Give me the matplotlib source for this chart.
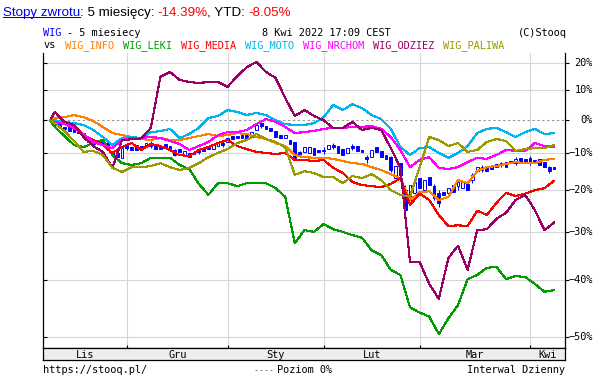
# Stooq style chart: WIG (candles) vs sector indices, 5 months, log return scale
import numpy as np
import matplotlib
matplotlib.use("Agg")
import matplotlib.pyplot as plt
from matplotlib import transforms
from matplotlib.lines import Line2D

W, H = 604, 377

# ---- data -------------------------------------------------------------
# trading day index since 8 Nov 2021
line_days = [0] + list(range(1, 106, 2))
wig_days = list(range(106))
month_start = [16, 37, 57, 77, 100]
month_labels = ["Lis", "Gru", "Sty", "Lut", "Mar", "Kwi"]

# returns in % relative to first day
wig_info = [0, 0.7, 1.0, 1.7, 1.0, -0.2, -2.1, -4.0, -4.6, -5.2, -5.8, -6.1, -5.5, -6.1, -6.1, -5.5,
            -4.9, -4.3, -4.9, -4.6, -4.0, -4.3, -5.2, -5.8, -7.0, -7.9, -10.5, -11.1, -11.3, -11.3, -11.6, -12.2,
            -12.8, -13.0, -13.9, -14.7, -15.8, -16.9, -22.5, -20.5, -20.3, -22.5, -21.7, -17.4, -18.2, -15.0, -13.9, -13.6,
            -13.0, -12.5, -12.8, -12.8, -11.9, -11.6]
wig_leki = [0, -2.1, -4.9, -7.6, -8.2, -7.0, -6.1, -10.5, -12.8, -13.3, -12.8, -11.3, -11.3, -11.3, -13.3, -14.4,
            -18.4, -21.2, -18.2, -18.2, -19.0, -18.2, -18.2, -18.2, -19.5, -21.7, -32.5, -29.6, -30.0, -28.2, -29.4, -30.0,
            -30.7, -31.3, -34.0, -35.0, -38.0, -39.0, -45.0, -45.9, -46.6, -49.5, -46.9, -44.6, -39.8, -39.0, -37.6, -37.4,
            -39.8, -39.2, -39.4, -40.7, -42.2, -41.9]
wig_media = [0, -0.2, -0.9, -1.8, -4.6, -6.1, -7.6, -9.9, -8.2, -7.0, -9.05, -7.3, -7.9, -9.05, -10.5, -10.8,
             -9.05, -8.2, -7.0, -6.1, -7.9, -8.8, -9.6, -9.9, -10.2, -9.9, -11.9, -11.9, -12.2, -11.9, -14.1, -15.5,
             -17.9, -18.7, -19.0, -19.2, -18.4, -16.9, -23.7, -20.9, -22.5, -26.1, -28.7, -28.5, -28.7, -25.1, -26.1, -23.2,
             -20.7, -21.5, -20.9, -20.0, -19.5, -17.6]
wig_moto = [0, 0, -0.5, -0.9, -1.5, -3.05, -5.2, -7.6, -5.5, -5.2, -5.5, -3.7, -3.4, -2.7, -5.5, -4.3,
            -2.4, 0.7, 1.4, 3.35, 2.7, 1.7, 2.4, 1.7, 0, -1.2, -1.5, -1.5, -0.9, 1.0, 5.0, 3.35,
            5.3, 4.0, 1.7, 0.4, -2.7, -8.2, -10.5, -8.5, -8.2, -9.9, -11.3, -9.9, -7.9, -4.0, -2.7, -2.4,
            -3.7, -5.2, -3.7, -2.7, -4.3, -4.0]
wig_nrchom = [0, -0.5, -1.2, -2.4, -4.3, -6.7, -7.6, -8.5, -6.1, -5.5, -5.5, -5.2, -5.5, -6.4, -7.3, -9.05,
              -7.9, -6.7, -4.6, -3.7, -3.7, -3.05, -1.2, 0.4, -0.5, -2.1, -4.0, -3.7, -3.35, -2.7, -2.4, -2.4,
              -2.1, -2.1, -1.8, -2.7, -5.2, -9.05, -13.9, -11.9, -11.1, -14.1, -14.4, -13.9, -12.5, -11.3, -11.6, -10.5,
              -9.05, -9.3, -9.3, -7.0, -7.9, -8.2]
wig_odziez = [0, 2.7, -0.5, -1.5, -5.2, -7.9, -9.6, -14.1, -6.1, -5.9, -5.6, -2.4, 14.9, 16.7, 13.8, 13.0,
              12.7, 13.0, 13.0, 11.3, 15.2, 18.5, 20.5, 16.7, 14.5, 7.4, 1.4, 3.35, 1.4, 0, -2.4, -2.4,
              -0.5, -3.05, -2.4, -3.05, -8.5, -14.1, -36.4, -36.4, -40.7, -43.5, -35.6, -33.0, -38.0, -29.6, -29.4, -27.0,
              -25.6, -22.5, -21.2, -24.9, -29.6, -27.9]
wig_paliwa = [0, -0.9, -3.35, -6.4, -9.6, -9.3, -10.5, -14.1, -15.2, -13.9, -13.9, -13.6, -12.8, -13.9, -14.7, -14.1,
              -12.8, -11.1, -9.9, -8.8, -7.0, -6.1, -4.3, -5.8, -6.7, -8.2, -16.0, -15.0, -15.5, -16.6, -16.6, -18.2,
              -16.3, -16.9, -15.8, -17.4, -20.0, -21.2, -21.7, -13.9, -5.2, -6.1, -7.9, -7.0, -9.6, -9.05, -6.7, -5.8,
              -6.4, -9.3, -8.8, -8.5, -8.5, -7.6]

# WIG daily candles (%)
wig_open = [0.3, -0.5, -1.2, -2.1, -2.1, -2.4, -3.1, -4.0, -5.2, -6.7,
            -6.4, -6.1, -7.0, -9.6, -9.9, -11.3, -7.6, -8.2, -7.6, -7.9,
            -8.2, -7.0, -7.9, -7.9, -7.3, -7.9, -9.1, -8.8, -10.5, -9.9,
            -9.6, -9.1, -8.5, -8.2, -8.8, -7.9, -7.0, -6.7, -4.9, -4.9,
            -4.6, -4.6, -5.2, -3.1, -0.9, -1.8, -2.4, -3.4, -4.6, -5.5,
            -6.1, -6.7, -9.6, -9.6, -9.9, -8.5, -9.1, -9.1, -8.8, -7.6,
            -7.9, -8.8, -9.9, -7.9, -7.9, -9.1, -11.1, -11.1, -8.2, -9.3,
            -10.5, -11.1, -16.8, -12.8, -20.0, -23.2, -20.7, -16.8, -20.0, -16.6,
            -19.0, -20.7, -20.5, -20.7, -18.7, -19.0, -19.5, -18.4, -17.4, -15.0,
            -13.9, -14.1, -13.6, -13.9, -12.8, -12.5, -12.2, -12.8, -11.3, -11.6,
            -11.3, -11.9, -11.6, -12.5, -13.9, -13.9]
wig_close = [-0.2, -1.5, -2.1, -2.7, -3.4, -3.7, -4.0, -5.2, -6.7, -7.3,
             -7.0, -7.0, -7.6, -10.5, -11.1, -8.5, -8.5, -9.1, -9.1, -8.8,
             -7.0, -7.9, -8.8, -8.8, -8.5, -9.1, -10.5, -9.6, -9.3, -11.1,
             -10.2, -9.6, -9.3, -8.8, -7.3, -7.0, -7.6, -5.5, -5.8, -5.5,
             -5.5, -5.5, -3.7, -1.5, -1.8, -2.7, -3.4, -5.2, -5.5, -4.6,
             -7.3, -11.3, -10.5, -8.2, -8.2, -10.5, -9.6, -9.3, -7.6, -8.2,
             -9.9, -10.5, -8.5, -8.5, -9.3, -9.6, -11.6, -9.1, -9.6, -11.1,
             -11.6, -14.7, -13.6, -16.0, -24.9, -18.7, -17.9, -19.5, -17.4, -18.7,
             -22.0, -23.2, -21.2, -19.5, -20.5, -17.9, -17.9, -20.0, -16.0, -13.9,
             -14.7, -15.0, -14.4, -13.0, -13.3, -13.9, -12.8, -11.6, -12.8, -12.8,
             -12.8, -12.8, -13.3, -13.9, -15.0, -14.4]
wick_days = [1, 9, 16, 21, 26, 31, 36, 44, 52, 57, 59, 63, 66, 71, 74, 76, 80, 81, 85, 88, 90, 94, 97, 100, 104]
wick_high = [0.0, -6.1, -7.0, -6.4, -8.8, -8.5, -6.4, -0.5, -9.3, -8.2, -7.0, -7.3, -10.5, -10.8, -18.7,
             -17.4, -18.4, -20.0, -17.4, -15.5, -13.3, -12.5, -11.1, -10.8, -13.6]
wick_low = [-2.1, -7.9, -9.1, -8.5, -10.8, -10.2, -8.2, -2.4, -11.1, -10.2, -8.8, -9.1, -12.8, -15.2, -25.6,
            -21.2, -22.5, -24.2, -20.0, -18.2, -15.2, -13.9, -13.3, -13.3, -15.5]

y_ticks = [20, 10, 0, -10, -20, -30, -40, -50]

series = [
    ("WIG_INFO", wig_info, "#ff8000"),
    ("WIG_LEKI", wig_leki, "#009c00"),
    ("WIG_MEDIA", wig_media, "#ff0000"),
    ("WIG_MOTO", wig_moto, "#00b4f0"),
    ("WIG_NRCHOM", wig_nrchom, "#ff00ff"),
    ("WIG_ODZIEZ", wig_odziez, "#990066"),
    ("WIG_PALIWA", wig_paliwa, "#999900"),
]
legend_x = [65, 122.7, 180.7, 245, 302.7, 372.7, 442.7]

WIG_BLUE = "#0000ff"
GRID = "#d6d6d6"
MONO = "DejaVu Sans Mono"


def fwd(v):
    return np.log10(1 + np.asarray(v, dtype=float) / 100.0)


def inv(y):
    return (10 ** np.asarray(y, dtype=float) - 1) * 100.0


def fx(x):
    return x / W


def fy(y):
    return 1 - y / H


def main():
    fig = plt.figure(figsize=(W / 100, H / 100), dpi=100)
    fig.patch.set_facecolor("white")

    ax = fig.add_axes([fx(43), fy(348), (565 - 43) / W, (348 - 53) / H])
    ax.set_yscale("function", functions=(fwd, inv))
    ax.set_xlim(-1.46, 107.29)
    ax.set_ylim(-51.7, 24.0)

    # grid
    for m in month_start:
        ax.axvline(m, color=GRID, lw=0.8, zorder=0)
    for t in y_ticks:
        if t == 0:
            ax.axhline(t, color="#999999", lw=0.8, dashes=(2.2, 2.2), zorder=0.5)
        else:
            ax.axhline(t, color=GRID, lw=0.8, zorder=0)

    # WIG candles
    wo = np.array(wig_open)
    wc = np.array(wig_close)
    ax.vlines(wick_days, wick_low, wick_high, colors=WIG_BLUE, lw=0.75, zorder=2)
    faces = [WIG_BLUE if c < o else "white" for o, c in zip(wo, wc)]
    ax.bar(wig_days, wc - wo, bottom=wo, width=0.62, color=faces,
           edgecolor=WIG_BLUE, linewidth=0.7, zorder=2.5)

    # sector lines
    for name, vals, col in series:
        ax.plot(line_days, vals, color=col, lw=0.8, antialiased=False, zorder=3)

    # axes frame
    for side in ("top",):
        ax.spines[side].set_visible(False)
    for side in ("left", "right", "bottom"):
        ax.spines[side].set_color("black")
        ax.spines[side].set_linewidth(0.9)
    ax.set_xticks(month_start)
    ax.set_xticklabels([])
    ax.tick_params(axis="x", direction="in", length=2, width=0.8, color="black")
    ax.set_yticks(y_ticks)
    ax.set_yticklabels([])
    ax.yaxis.set_minor_locator(matplotlib.ticker.NullLocator())
    ax.tick_params(axis="y", which="both", direction="in", left=True, right=False,
                   length=3, width=0.8)

    ax2 = ax.twinx()
    ax2.set_yscale("function", functions=(fwd, inv))
    ax2.set_ylim(ax.get_ylim())
    ax2.set_yticks(y_ticks)
    ax2.set_yticklabels([])
    ax2.yaxis.set_minor_locator(matplotlib.ticker.NullLocator())
    ax2.tick_params(axis="y", which="both", direction="out", length=3, width=0.8, right=True)
    for s in ax2.spines.values():
        s.set_visible(False)

    # right labels
    trans = transforms.blended_transform_factory(fig.transFigure, ax.transData)
    for t in y_ticks:
        lab = f"{t}%".replace("-", "\u2212")
        ax.text(fx(593), t, lab, transform=trans, ha="right", va="center",
                family=MONO, fontsize=7.4, clip_on=False)

    # month band
    band = fig.add_axes([fx(43), fy(360), (565 - 43) / W, 12 / H])
    band.set_facecolor("#eeeeee")
    band.set_xlim(ax.get_xlim())
    band.set_ylim(0, 1)
    band.set_xticks([])
    band.set_yticks([])
    for s in band.spines.values():
        s.set_color("black")
        s.set_linewidth(0.9)
    edges = [ax.get_xlim()[0]] + month_start + [ax.get_xlim()[1]]
    btrans = transforms.blended_transform_factory(band.transData, fig.transFigure)
    for i, lab in enumerate(month_labels):
        mid = 0.5 * (edges[i] + edges[i + 1])
        band.text(mid, fy(358), lab, transform=btrans, ha="center", va="baseline",
                  family=MONO, fontsize=7.4)

    # header line 1
    sans = "Liberation Sans"
    fig.text(fx(3), fy(15.7), "Stopy zwrotu", color="#0000ee", family=sans, fontsize=9.6, va="baseline")
    fig.add_artist(Line2D([fx(3), fx(80)], [fy(17.3), fy(17.3)], color="#0000ee", lw=0.75))
    fig.text(fx(80), fy(15.7), ": 5 miesięcy: ", color="black", family=sans, fontsize=9.6, va="baseline")
    fig.text(fx(157.7), fy(15.7), "-14.39%", color="#ff0000", family=sans, fontsize=9.6, va="baseline")
    fig.text(fx(206.7), fy(15.7), ", YTD: ", color="black", family=sans, fontsize=9.6, va="baseline")
    fig.text(fx(248.3), fy(15.7), "-8.05%", color="#ff0000", family=sans, fontsize=9.6, va="baseline")

    # header line 2
    fig.text(fx(43), fy(35.7), "WIG", color=WIG_BLUE, family=MONO, fontsize=7.4, va="baseline")
    fig.text(fx(66.7), fy(35.7), "- 5 miesiecy", color="black", family=MONO, fontsize=7.4, va="baseline")
    fig.text(fx(261.7), fy(35.7), "8 Kwi 2022 17:09 CEST", color="black", family=MONO, fontsize=7.4, va="baseline")
    fig.text(fx(518), fy(35.7), "(C)Stooq", color="black", family=MONO, fontsize=7.4, va="baseline")

    # header line 3 (legend)
    fig.text(fx(43), fy(48.5), "vs", color="black", family=MONO, fontsize=7.4, va="baseline")
    for (name, vals, col), x in zip(series, legend_x):
        fig.text(fx(x), fy(48.5), name, color=col, family=MONO, fontsize=7.4, va="baseline")

    # footer
    fig.text(fx(43), fy(373), "https://stooq.pl/", color="black", family=MONO, fontsize=7.4, va="baseline")
    fig.add_artist(Line2D([fx(255), fx(273)], [fy(370), fy(370)], color="#999999", lw=0.8,
                          dashes=(2.2, 2.2)))
    fig.text(fx(277), fy(373), "Poziom 0%", color="black", family=MONO, fontsize=7.4, va="baseline")
    fig.text(fx(565), fy(373), "Interwal Dzienny", color="black", family=MONO, fontsize=7.4,
             va="baseline", ha="right")

    fig.savefig("out.png", dpi=100, facecolor="white")


if __name__ == "__main__":
    main()
